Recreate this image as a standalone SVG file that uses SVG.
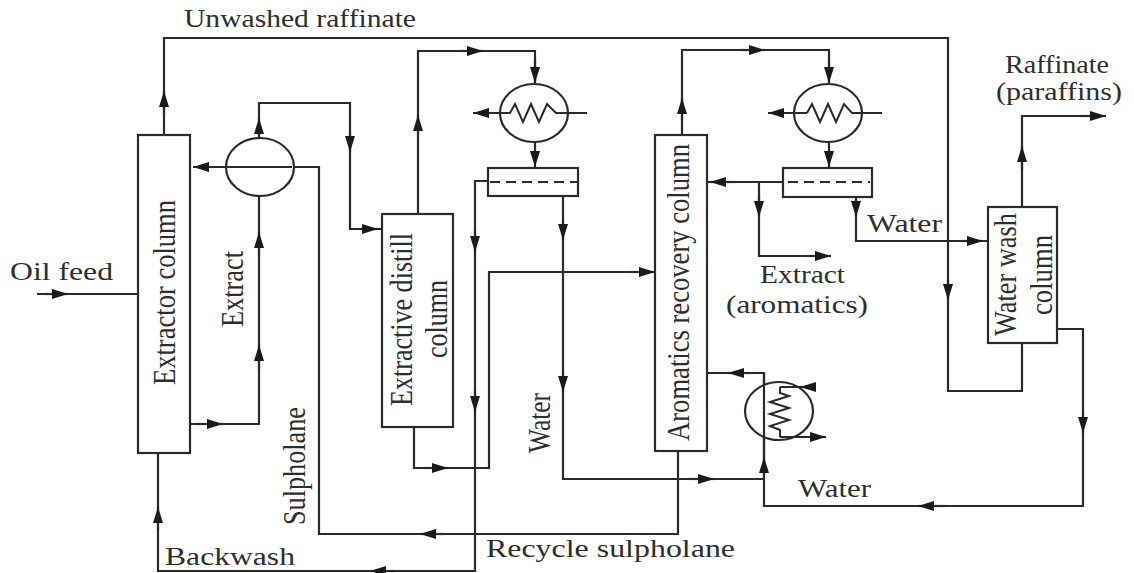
<svg xmlns="http://www.w3.org/2000/svg" width="1134" height="573" viewBox="0 0 1134 573">
<defs>
<marker id="e" markerUnits="userSpaceOnUse" markerWidth="18" markerHeight="12" refX="16" refY="6" orient="auto"><path d="M0 1L16 6L0 11Z" fill="#1a1a1a"/></marker>
</defs>
<style>
.c{fill:none;stroke:#2a2a2a;stroke-width:2.2}
.b{fill:#fff;stroke:#2a2a2a;stroke-width:2.2}
.k{fill:none;stroke:#2a2a2a;stroke-width:2}
text{font-family:"Liberation Serif",serif;font-size:26px;fill:#2e2e2e}
.v{font-size:32px}
</style>
<rect width="1134" height="573" fill="#fff"/>
<g id="connectors">
<path class="c" d="M164 135V38H948V391H1022V343"/>
<path class="c" d="M164 115V91" marker-end="url(#e)"/>
<path class="c" d="M948 280V300" marker-end="url(#e)"/>
<path class="c" d="M37 294H138"/><path class="c" d="M45 294H68" marker-end="url(#e)"/>
<path class="c" d="M190 424H259V103H350V229H382"/>
<path class="c" d="M195 424H223" marker-end="url(#e)"/>
<path class="c" d="M259 370V345" marker-end="url(#e)"/>
<path class="c" d="M259 255V232" marker-end="url(#e)"/>
<path class="c" d="M259 135V118" marker-end="url(#e)"/>
<path class="c" d="M350 130V152" marker-end="url(#e)"/>
<path class="c" d="M360 229H378" marker-end="url(#e)"/>
<path class="c" d="M292 167H319V534H678V451"/>
<path class="c" d="M226 167H193" marker-end="url(#e)"/>
<path class="c" d="M445 534H420" marker-end="url(#e)"/>
<path class="c" d="M418 214V51H535V83"/>
<path class="c" d="M418 135V115" marker-end="url(#e)"/>
<path class="c" d="M460 51H483" marker-end="url(#e)"/>
<path class="c" d="M535 60V83" marker-end="url(#e)"/>
<path class="c" d="M535 142V167" marker-end="url(#e)"/>
<path class="c" d="M414 427V468H489V272H655"/>
<path class="c" d="M425 468H448" marker-end="url(#e)"/>
<path class="c" d="M630 272H655" marker-end="url(#e)"/>
<path class="c" d="M488 181H475V571H158V453"/>
<path class="c" d="M475 230V252" marker-end="url(#e)"/>
<path class="c" d="M475 390V412" marker-end="url(#e)"/>
<path class="c" d="M395 571H370" marker-end="url(#e)"/>
<path class="c" d="M158 530V507" marker-end="url(#e)"/>
<path class="c" d="M563 196V479H764"/>
<path class="c" d="M563 220V240" marker-end="url(#e)"/>
<path class="c" d="M563 370V392" marker-end="url(#e)"/>
<path class="c" d="M690 479H714" marker-end="url(#e)"/>
<path class="c" d="M1057 329H1083V506H764V373H707"/>
<path class="c" d="M764 475V457" marker-end="url(#e)"/>
<path class="c" d="M1083 410V433" marker-end="url(#e)"/>
<path class="c" d="M945 506H918" marker-end="url(#e)"/>
<path class="c" d="M750 373H728" marker-end="url(#e)"/>
<path class="c" d="M682 134V50H829V83"/>
<path class="c" d="M682 120V98" marker-end="url(#e)"/>
<path class="c" d="M740 50H765" marker-end="url(#e)"/>
<path class="c" d="M829 60V83" marker-end="url(#e)"/>
<path class="c" d="M829 142V167" marker-end="url(#e)"/>
<path class="c" d="M783 182H707"/><path class="c" d="M735 182H710" marker-end="url(#e)"/>
<path class="c" d="M759 182V256H831"/><path class="c" d="M759 195V217" marker-end="url(#e)"/>
<path class="c" d="M805 256H831" marker-end="url(#e)"/>
<path class="c" d="M856 197V241H988"/>
<path class="c" d="M856 200V217" marker-end="url(#e)"/>
<path class="c" d="M960 241H983" marker-end="url(#e)"/>
<path class="c" d="M1022 207V116H1106"/>
<path class="c" d="M1022 170V146" marker-end="url(#e)"/>
<path class="c" d="M1080 116H1106" marker-end="url(#e)"/>
</g>
<g id="extractor-column"><rect class="b" x="138" y="135" width="52" height="318"/><text class="v" transform="translate(175 385) rotate(-90)" textLength="185" lengthAdjust="spacingAndGlyphs">Extractor column</text></g>
<g id="exchanger-1"><ellipse class="b" cx="260" cy="167" rx="34" ry="29"/><path class="c" d="M226 167H292"/></g>
<g id="extractive-distill-column"><rect class="b" x="382" y="214" width="71" height="213"/><text class="v" transform="translate(412 406) rotate(-90)" textLength="173" lengthAdjust="spacingAndGlyphs">Extractive distill</text><text class="v" transform="translate(447 358) rotate(-90)" textLength="78" lengthAdjust="spacingAndGlyphs">column</text></g>
<g id="condenser-1"><ellipse class="b" cx="534" cy="113" rx="34" ry="29"/><path class="k" d="M500 113H510l5-9 8 18 8-18 8 18 8-18 9 9H587"/><path class="c" d="M510 113H473" marker-end="url(#e)"/></g>
<g id="separator-1"><rect class="b" x="488" y="168" width="90" height="28"/><path class="c" stroke-dasharray="10 6" d="M490 182H577"/></g>
<g id="aromatics-recovery-column"><rect class="b" x="655" y="135" width="52" height="316"/><text class="v" transform="translate(689 441) rotate(-90)" textLength="297" lengthAdjust="spacingAndGlyphs">Aromatics recovery column</text></g>
<g id="condenser-2"><ellipse class="b" cx="828" cy="113" rx="34" ry="29"/><path class="k" d="M807 113l5-9 8 18 8-18 8 18 8-18 8 9H882"/><path class="c" d="M807 113H768" marker-end="url(#e)"/></g>
<g id="separator-2"><rect class="b" x="783" y="168" width="89" height="29"/><path class="c" stroke-dasharray="10 6" d="M788 182H870"/></g>
<g id="reboiler"><ellipse class="b" cx="779" cy="411" rx="34" ry="29"/><path class="c" d="M764 373V457"/><path class="k" d="M780 387V393L789 396 770 402 789 408 770 414 789 420 770 426 780 430V437"/><path class="c" d="M815 387H780"/><path class="c" d="M816 387H800" marker-end="url(#e)"/><path class="c" d="M780 437H826" marker-end="url(#e)"/></g>
<g id="water-wash-column"><rect class="b" x="988" y="207" width="69" height="136"/><text class="v" transform="translate(1016 336) rotate(-90)" textLength="123" lengthAdjust="spacingAndGlyphs">Water wash</text><text class="v" transform="translate(1052 315) rotate(-90)" textLength="80" lengthAdjust="spacingAndGlyphs">column</text></g>
<g id="labels">
<text x="184" y="27" textLength="232" lengthAdjust="spacingAndGlyphs">Unwashed raffinate</text>
<text x="1005" y="73" textLength="104" lengthAdjust="spacingAndGlyphs">Raffinate</text>
<text x="996" y="100" textLength="126" lengthAdjust="spacingAndGlyphs">(paraffins)</text>
<text x="10" y="280" textLength="103" lengthAdjust="spacingAndGlyphs">Oil feed</text>
<text class="v" transform="translate(243 327) rotate(-90)" textLength="76" lengthAdjust="spacingAndGlyphs">Extract</text>
<text class="v" transform="translate(305 525) rotate(-90)" textLength="118" lengthAdjust="spacingAndGlyphs">Sulpholane</text>
<text class="v" transform="translate(550 453) rotate(-90)" textLength="60" lengthAdjust="spacingAndGlyphs">Water</text>
<text x="867" y="232" textLength="75" lengthAdjust="spacingAndGlyphs">Water</text>
<text x="760" y="283" textLength="85" lengthAdjust="spacingAndGlyphs">Extract</text>
<text x="726" y="313" textLength="142" lengthAdjust="spacingAndGlyphs">(aromatics)</text>
<text x="798" y="497" textLength="73" lengthAdjust="spacingAndGlyphs">Water</text>
<text x="165" y="565" textLength="130" lengthAdjust="spacingAndGlyphs">Backwash</text>
<text x="486" y="557" textLength="249" lengthAdjust="spacingAndGlyphs">Recycle sulpholane</text>
</g>
</svg>
